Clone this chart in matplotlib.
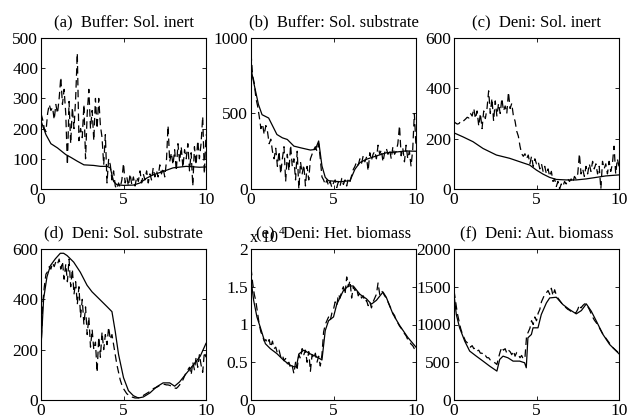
import numpy as np
import matplotlib
matplotlib.use('Agg')
import matplotlib.pyplot as plt
from matplotlib.ticker import FuncFormatter

plt.rcParams['font.family'] = ['Liberation Serif', 'DejaVu Serif']

# measurement times (every 0.1 day)
t_meas = np.linspace(0, 10, 101)

# (a) Buffer: Sol. inert
meas_a = [250, 230, 200, 190, 250, 280, 260, 270, 230, 280,
          250, 300, 370, 280, 330, 250, 80, 290, 150, 270,
          200, 300, 450, 160, 200, 170, 280, 100, 250, 330,
          200, 260, 160, 300, 200, 300, 210, 170, 80, 180,
          20, 100, 80, 30, 60, 10, 0, 20, 5, 30,
          85, 20, 40, 10, 50, 15, 40, 10, 40, 25,
          60, 20, 50, 30, 60, 20, 50, 30, 70, 40,
          60, 40, 80, 50, 70, 40, 90, 210, 90, 120,
          80, 130, 60, 150, 90, 140, 70, 130, 100, 150,
          60, 120, 10, 140, 80, 160, 100, 150, 240, 50,
          180]
sim_a_t = [0, 0.3, 0.6, 1.0, 1.5, 1.8, 2.2, 2.6, 3.2, 3.6, 4.0, 4.2, 4.4, 4.6,
           5.0, 5.6, 6.0, 6.4, 6.8, 7.4, 8.0, 8.8, 9.6, 10]
sim_a = [225, 180, 150, 136, 114, 105, 92, 80, 78, 75, 75, 70, 25, 14,
         12, 13, 20, 36, 47, 58, 70, 75, 72, 73]

# (b) Buffer: Sol. substrate
meas_b = [900, 750, 700, 600, 550, 480, 400, 430, 360, 420,
          380, 300, 330, 250, 200, 270, 150, 250, 100, 200,
          280, 50, 230, 120, 290, 150, 200, 60, 250, 0,
          180, 100, 160, 20, 150, 60, 200, 230, 260, 280,
          250, 300, 200, 80, 60, 30, 60, 20, 50, 10,
          40, 60, 10, 50, 20, 70, 30, 60, 20, 70,
          50, 90, 130, 150, 180, 160, 200, 170, 220, 180,
          210, 120, 240, 190, 230, 250, 200, 290, 230, 260,
          180, 240, 270, 230, 260, 200, 280, 230, 250, 300,
          420, 220, 270, 180, 290, 200, 250, 150, 260, 500,
          280]
sim_b_t = [0, 0.1, 0.26, 0.45, 0.67, 1.07, 1.3, 1.57, 1.9, 2.2, 2.6, 3.0, 3.6,
           3.9, 4.1, 4.3, 4.5, 4.7, 5.4, 6.0, 6.3, 6.6, 7.0, 7.6, 8.2, 8.8, 9.4, 10]
sim_b = [800, 740, 656, 560, 492, 470, 420, 361, 339, 328, 284, 273, 258,
         262, 318, 153, 77, 55, 48, 55, 131, 175, 197, 219, 240, 245, 252, 250]

# (c) Deni: Sol. inert
meas_c = [267, 262, 258, 260, 268, 265, 272, 278, 285, 282,
          300, 290, 320, 280, 310, 250, 300, 240, 310, 280,
          320, 390, 300, 360, 270, 350, 290, 340, 300, 360,
          310, 330, 300, 385, 320, 340, 290, 270, 230, 210,
          170, 140, 130, 140, 120, 135, 100, 130, 90, 120,
          100, 110, 80, 100, 70, 90, 60, 80, 50, 70,
          30, 40, 10, 30, 0, 20, 10, 30, 20, 40,
          30, 40, 25, 50, 40, 60, 140, 60, 80, 50,
          90, 60, 100, 70, 110, 80, 100, 60, 90, 0,
          110, 80, 100, 60, 110, 70, 100, 170, 60, 120,
          90]
sim_c_t = [0, 0.55, 1.15, 1.76, 2.57, 3.37, 4.18, 4.59, 5.0, 5.4, 5.8, 6.2,
           6.8, 7.4, 8.0, 8.6, 9.2, 10]
sim_c = [223, 207, 188, 161, 135, 122, 104, 95, 75, 59, 46, 38,
         36, 36, 40, 46, 52, 56]

# (d) Deni: Sol. substrate
meas_d = [200, 380, 450, 500, 510, 530, 520, 545, 530, 550,
          540, 560, 520, 550, 480, 540, 470, 560, 450, 520,
          420, 470, 380, 450, 330, 400, 300, 370, 260, 330,
          210, 280, 200, 230, 110, 250, 170, 270, 200, 260,
          220, 290, 240, 260, 220, 180, 140, 110, 80, 60,
          45, 35, 25, 20, 15, 12, 10, 8, 8, 9,
          10, 14, 18, 22, 26, 30, 34, 40, 45, 48,
          50, 54, 58, 60, 62, 62, 60, 60, 58, 55,
          50, 48, 46, 52, 60, 70, 80, 95, 110, 120,
          130, 100, 150, 120, 170, 130, 180, 140, 110, 190,
          170]
sim_d_t = [0, 0.16, 0.36, 0.57, 0.87, 1.17, 1.37, 1.58, 1.98, 2.38, 2.79, 3.09,
           3.6, 4.0, 4.3, 4.5, 4.7, 5.0, 5.3, 5.6, 5.9, 6.2, 6.6, 7.0, 7.4, 7.8,
           8.1, 8.4, 8.8, 9.25, 9.65, 10]
sim_d = [210, 403, 489, 534, 561, 583, 583, 574, 548, 508, 456, 430,
         397, 371, 351, 272, 181, 89, 37, 17, 8, 12, 28, 52, 68, 68,
         55, 72, 105, 141, 174, 225]

# (e) Deni: Het. biomass
meas_e = [17500, 15500, 14000, 13000, 11500, 10000, 9000, 8500, 7800, 8000,
          7500, 8000, 7000, 7800, 6800, 7000, 6200, 6600, 5700, 6000,
          5200, 5500, 4800, 5000, 4200, 4500, 3500, 5000, 4200, 6000,
          5500, 6800, 6000, 6600, 5000, 6400, 3800, 6000, 5500, 6200,
          5000, 5800, 4500, 6000, 9000, 10000, 10500, 11000, 10500, 11500,
          12000, 13000, 12500, 14000, 13500, 14500, 15000, 14000, 16300, 15000,
          15800, 13500, 15000, 14500, 14800, 13800, 14200, 13500, 13800, 13000,
          13200, 12500, 13000, 12200, 13000, 13500, 14000, 15500, 14000, 14500,
          14200, 13800, 13500, 13000, 12500, 12000, 11500, 11200, 10500, 10200,
          9800, 9500, 9200, 8800, 8500, 8000, 7800, 7400, 7200, 6800,
          6600]
sim_e_t = [0, 0.16, 0.36, 0.56, 0.87, 1.17, 1.57, 1.98, 2.38, 2.6, 2.75, 2.9,
           3.2, 3.6, 4.0, 4.3, 4.5, 4.7, 5.0, 5.2, 5.6, 5.9, 6.2, 6.6, 7.0, 7.3,
           7.6, 8.0, 8.2, 8.6, 9.0, 9.5, 10]
sim_e = [16000, 13200, 11000, 9650, 7460, 6800, 6140, 5260, 4600, 4400, 4400, 6100,
         6600, 6100, 5700, 5300, 9200, 10500, 11000, 12700, 14500, 15100, 15100,
         14000, 13400, 12700, 13200, 14300, 13600, 11400, 9900, 8300, 7000]

# (f) Deni: Aut. biomass
meas_f = [1450, 1300, 1150, 1050, 950, 880, 830, 780, 760, 720,
          700, 720, 680, 690, 650, 660, 620, 620, 580, 590,
          560, 560, 530, 520, 500, 490, 470, 560, 640, 700,
          660, 680, 620, 660, 640, 600, 650, 580, 630, 600,
          560, 590, 540, 560, 850, 900, 950, 1050, 1000, 1100,
          1050, 1150, 1200, 1300, 1350, 1400, 1420, 1450, 1400, 1480,
          1380, 1460, 1390, 1350, 1320, 1290, 1260, 1240, 1220, 1200,
          1190, 1170, 1160, 1150, 1160, 1200, 1260, 1220, 1250, 1270,
          1280, 1240, 1200, 1150, 1100, 1060, 1030, 1000, 960, 920,
          880, 850, 820, 790, 760, 730, 700, 680, 660, 640,
          620]
sim_f_t = [0, 0.14, 0.34, 0.65, 0.95, 1.35, 1.76, 2.16, 2.6, 2.77, 2.97, 3.27,
           3.58, 3.98, 4.28, 4.38, 4.48, 4.69, 4.79, 5.09, 5.29, 5.6, 5.8, 6.2,
           6.6, 7.0, 7.41, 7.72, 8.02, 8.32, 8.63, 9.03, 9.43, 10]
sim_f = [1396, 1132, 956, 780, 648, 581, 515, 449, 383, 537, 581, 559,
         515, 515, 493, 427, 824, 868, 956, 956, 1132, 1286, 1352, 1361,
         1264, 1198, 1141, 1185, 1273, 1176, 1044, 868, 736, 612]

titles = ['(a)  Buffer: Sol. inert', '(b)  Buffer: Sol. substrate',
          '(c)  Deni: Sol. inert', '(d)  Deni: Sol. substrate',
          '(e)  Deni: Het. biomass', '(f)  Deni: Aut. biomass']
ylims = [500, 1000, 600, 600, 20000, 2000]
yticks = [[0, 100, 200, 300, 400, 500], [0, 500, 1000], [0, 200, 400, 600],
          [0, 200, 400, 600], [0, 5000, 10000, 15000, 20000], [0, 500, 1000, 1500, 2000]]
meas = [meas_a, meas_b, meas_c, meas_d, meas_e, meas_f]
sims = [(sim_a_t, sim_a), (sim_b_t, sim_b), (sim_c_t, sim_c),
        (sim_d_t, sim_d), (sim_e_t, sim_e), (sim_f_t, sim_f)]

fig = plt.figure(figsize=(6.27, 4.19), dpi=100)
W, H = 627, 419
lefts = [41, 251, 454]
tops = [38, 249]
w, h = 165, 151

for i in range(6):
    r, c = divmod(i, 3)
    ax = fig.add_axes([lefts[c] / W, 1 - (tops[r] + h) / H, w / W, h / H])
    ax.plot(sims[i][0], sims[i][1], color='k', lw=0.9)
    ax.plot(t_meas, meas[i], color='k', lw=0.9, dashes=(6, 3.5))
    ax.set_xlim(0, 10)
    ax.set_ylim(0, ylims[i])
    ax.set_xticks([0, 5, 10])
    ax.set_yticks(yticks[i])
    if i == 4:
        ax.yaxis.set_major_formatter(FuncFormatter(lambda v, _: f'{v / 1e4:g}'))
    ax.tick_params(direction='in', top=True, right=True, length=3, width=0.6,
                   labelsize=12.5, pad=2)
    for s in ax.spines.values():
        s.set_linewidth(0.8)
    ax.set_title(titles[i], fontsize=12, pad=8)

# exponent label of panel (e)
fig.text(250 / W, 1 - 238 / H, 'x 10', fontsize=11.5, va='center', ha='left')
fig.text(279 / W, 1 - 231 / H, '4', fontsize=8, va='center', ha='left')

fig.savefig('out.png', dpi=100)
